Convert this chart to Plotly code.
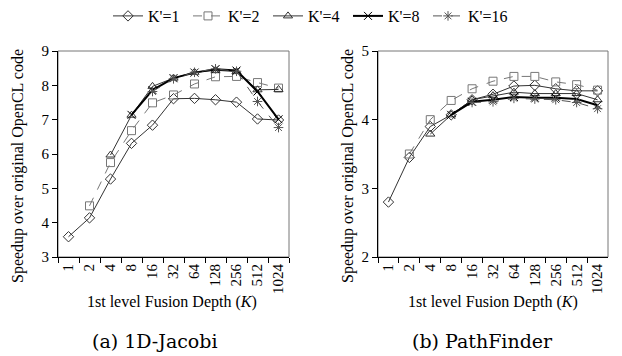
import plotly.graph_objects as go

depths = ["1", "2", "4", "8", "16", "32", "64", "128", "256", "512", "1024"]
series_names = ["K'=1", "K'=2", "K'=4", "K'=8", "K'=16"]

# 1D-Jacobi (None where K < K')
jacobi = {
    "K'=1": [3.59, 4.14, 5.27, 6.31, 6.84, 7.61, 7.62, 7.58, 7.51, 7.02, 6.99],
    "K'=2": [None, 4.49, 5.75, 6.68, 7.49, 7.72, 8.04, 8.25, 8.26, 8.08, 7.92],
    "K'=4": [None, None, 5.97, 7.13, 7.97, 8.21, 8.38, 8.44, 8.40, 7.87, 7.88],
    "K'=8": [None, None, None, 7.14, 7.86, 8.21, 8.37, 8.47, 8.43, 7.82, 7.01],
    "K'=16": [None, None, None, None, 7.82, 8.19, 8.38, 8.48, 8.41, 7.53, 6.77],
}

# PathFinder
pathfinder = {
    "K'=1": [2.80, 3.45, 3.90, 4.07, 4.29, 4.37, 4.49, 4.50, 4.45, 4.42, 4.42],
    "K'=2": [None, 3.50, 4.00, 4.28, 4.45, 4.56, 4.63, 4.63, 4.55, 4.51, 4.43],
    "K'=4": [None, None, 3.79, 4.07, 4.29, 4.35, 4.40, 4.38, 4.38, 4.38, 4.29],
    "K'=8": [None, None, None, 4.07, 4.26, 4.29, 4.33, 4.32, 4.32, 4.30, 4.21],
    "K'=16": [None, None, None, None, 4.25, 4.26, 4.31, 4.30, 4.29, 4.25, 4.16],
}

styles = {
    "K'=1": dict(symbol="diamond-open", color="#333333", dash="solid", width=1),
    "K'=2": dict(symbol="square-open", color="#777777", dash="dash", width=1),
    "K'=4": dict(symbol="triangle-up-open", color="#333333", dash="solid", width=1),
    "K'=8": dict(symbol="x-thin-open", color="#000000", dash="solid", width=2),
    "K'=16": dict(symbol="asterisk-open", color="#555555", dash="dash", width=1),
}

SERIF = "'Liberation Serif', 'Times New Roman', Times, serif"
CAPSERIF = "'DejaVu Serif', serif"
W, H = 622, 356

fig = go.Figure()
for data, xa, ya, show in [(jacobi, "x", "y", True), (pathfinder, "x2", "y2", False)]:
    for name in series_names:
        s = styles[name]
        fig.add_trace(go.Scatter(
            x=depths, y=data[name], name=name, xaxis=xa, yaxis=ya,
            mode="lines+markers", showlegend=show, connectgaps=False,
            line=dict(color=s["color"], dash=s["dash"], width=s["width"]),
            marker=dict(symbol=s["symbol"], size=8, color=s["color"],
                        line=dict(color=s["color"], width=1)),
        ))

def px(x):
    return x / W

def py(y):
    return 1 - y / H

axis_common = dict(
    showline=True, linecolor="black", linewidth=1, ticks="outside",
    tickcolor="black", ticklen=5, showgrid=False, zeroline=False,
    tickfont=dict(family=SERIF, size=15, color="black"),
)
xaxis_common = dict(type="category", tickson="boundaries", tickangle=-90,
                    range=[-0.5, 10.5], tickmode="array", tickvals=depths,
                    ticktext=depths)

TOP, BOT = 51, 257
L1, R1 = 58, 289
L2, R2 = 378, 608

fig.update_layout(
    width=W, height=H, margin=dict(l=0, r=0, t=0, b=0, autoexpand=False),
    paper_bgcolor="white", plot_bgcolor="white",
    xaxis=dict(domain=[px(L1), px(R1)], anchor="y", **xaxis_common, **axis_common),
    yaxis=dict(domain=[py(BOT), py(TOP)], anchor="x", range=[3, 9], dtick=1,
               **axis_common),
    xaxis2=dict(domain=[px(L2), px(R2)], anchor="y2", **xaxis_common, **axis_common),
    yaxis2=dict(domain=[py(BOT), py(TOP)], anchor="x2", range=[2, 5], dtick=1,
                **axis_common),
    legend=dict(orientation="h", x=px(308), xanchor="center", y=py(16), yanchor="middle",
                font=dict(family=SERIF, size=16, color="black"),
                bgcolor="rgba(0,0,0,0)", entrywidth=35, entrywidthmode="pixels"),
    font=dict(family=SERIF, color="black"),
)

for xr, yr in [("x domain", "y domain"), ("x2 domain", "y2 domain")]:
    fig.add_shape(type="rect", xref=xr, yref=yr, x0=0, x1=1, y0=0, y1=1,
                  line=dict(color="#777777", width=1), layer="below")

ann = []
for xt, xc, cap in [((L1 + R1) / 2 - 2, 155, "(a) 1D-Jacobi"),
                    ((L2 + R2) / 2, 482, "(b) PathFinder")]:
    ann.append(dict(x=px(xt), y=py(302), xref="paper", yref="paper",
                    xanchor="center", yanchor="middle",
                    text="1st level Fusion Depth (<i>K</i>)", showarrow=False,
                    font=dict(family=SERIF, size=16, color="black")))
    ann.append(dict(x=px(xc), y=py(341), xref="paper", yref="paper",
                    xanchor="center", yanchor="middle",
                    text=cap, showarrow=False,
                    font=dict(family=CAPSERIF, size=19, color="black")))
for xl in [18, 348]:
    ann.append(dict(x=px(xl), y=py(166), xref="paper", yref="paper",
                    xanchor="center", yanchor="middle",
                    text="Speedup over original OpenCL code", showarrow=False,
                    textangle=-90,
                    font=dict(family=SERIF, size=16, color="black")))
fig.update_layout(annotations=ann)

fig.write_html("out.html",
               config={"displayModeBar": False},
               post_script="document.body.style.margin='0';document.body.style.overflow='hidden';")
